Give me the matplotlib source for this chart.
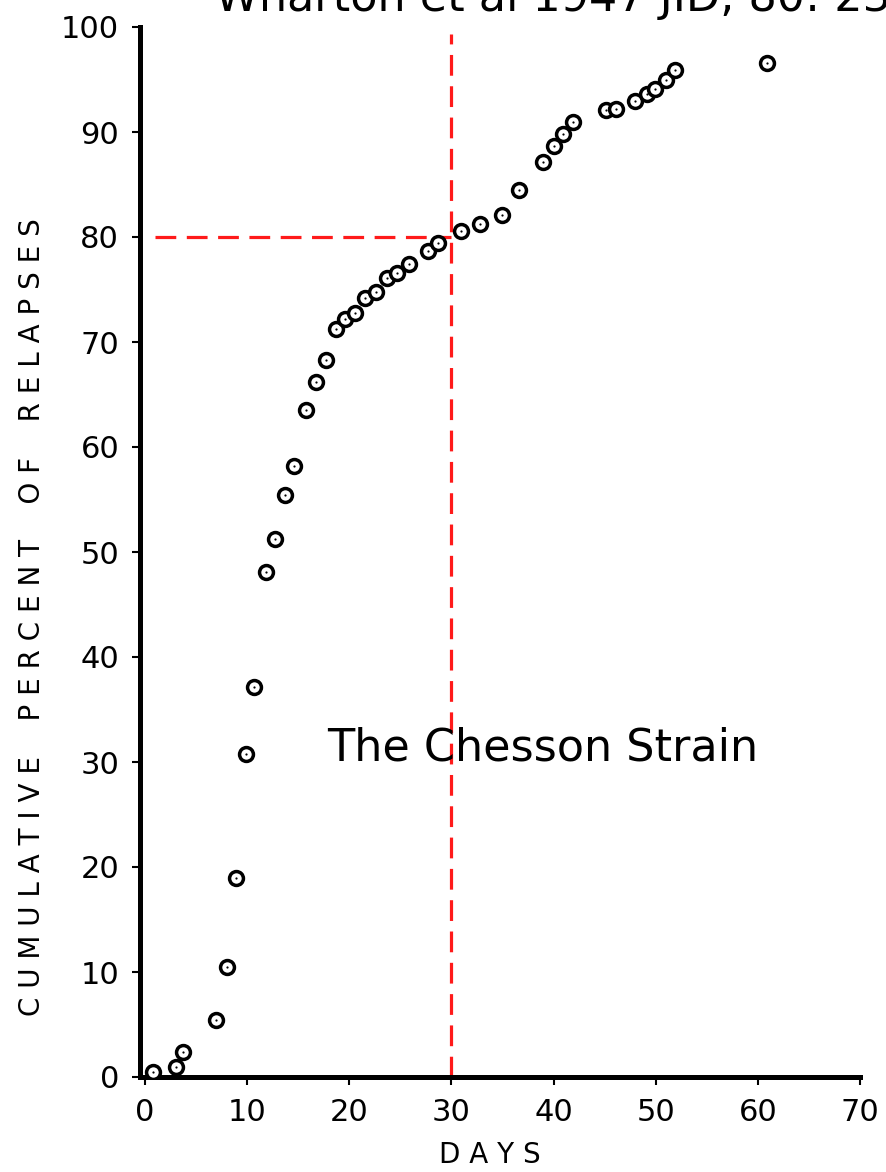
import matplotlib
matplotlib.use("Agg")
import matplotlib.pyplot as plt

days = [0.8, 3.0, 3.7, 6.9, 8.0, 8.9, 9.9, 10.7, 11.8, 12.7, 13.7, 14.6, 15.8, 16.7,
        17.7, 18.7, 19.6, 20.6, 21.5, 22.6, 23.7, 24.7, 25.8, 27.7, 28.7, 30.9,
        32.8, 34.9, 36.6, 39.0, 40.0, 40.9, 41.9, 45.1, 46.1, 48.0, 49.1, 49.9,
        51.0, 51.9, 60.9]
cum_pct = [0.5, 1.0, 2.4, 5.4, 10.5, 19.0, 30.8, 37.1, 48.1, 51.2, 55.4, 58.2, 63.5,
           66.2, 68.3, 71.2, 72.2, 72.8, 74.2, 74.8, 76.1, 76.6, 77.4, 78.7, 79.4,
           80.6, 81.2, 82.1, 84.5, 87.1, 88.7, 89.8, 91.0, 92.1, 92.2, 93.0, 93.6,
           94.1, 95.0, 95.9, 96.6]
x_ticks = [0, 10, 20, 30, 40, 50, 60, 70]
y_ticks = [0, 10, 20, 30, 40, 50, 60, 70, 80, 90, 100]
ref_day = 30
ref_pct = 80

W, H = 887, 1172
fig = plt.figure(figsize=(W / 100, H / 100), dpi=100)
ax = fig.add_axes([140 / W, (H - 1077) / H, 720 / W, 1050 / H])
ax.set_xlim(-0.5, 70)
ax.set_ylim(0, 100)

for s in ["top", "right"]:
    ax.spines[s].set_visible(False)
for s in ["left", "bottom"]:
    ax.spines[s].set_linewidth(3.6)
    ax.spines[s].set_color("black")

ax.set_xticks(x_ticks)
ax.set_yticks(y_ticks)
ax.tick_params(axis="both", direction="out", length=6, width=1.5, colors="black",
               labelsize=22)
ax.tick_params(axis="y", pad=9)
ax.tick_params(axis="x", pad=9)

# reference lines
ls = (0, (6.5, 3.3))
ax.plot([ref_day, ref_day], [0, 99.3], color="#ff1a1a", lw=2.3, linestyle=ls, zorder=2)
ax.plot([1.0, ref_day], [ref_pct, ref_pct], color="#ff1a1a", lw=2.3, linestyle=ls, zorder=2)

ax.plot(days, cum_pct, linestyle="none", marker="o", markersize=10,
        markerfacecolor="white", markeredgecolor="black", markeredgewidth=2.5, zorder=3)
ax.plot(days, cum_pct, linestyle="none", marker="o", markersize=1.6,
        markerfacecolor="black", markeredgecolor="black", markeredgewidth=0, zorder=4)

ax.text(38.9, 31.3, "The Chesson Strain", fontsize=32, ha="center", va="center",
        color="black")

fig.text(32 / W, 1 - 617 / H,
         "C U M U L A T I V E    P E R C E N T    O F    R E L A P S E S",
         rotation=90, fontsize=20, ha="center", va="center")
fig.text(490 / W, 1 - 1155 / H, "D A Y S", fontsize=20, ha="center", va="center")

fig.text(215 / W, 1 - 11 / H, "Wharton et al 1947 JID, 80: 237", fontsize=32,
         ha="left", va="baseline")

fig.savefig("out.png", dpi=100)
